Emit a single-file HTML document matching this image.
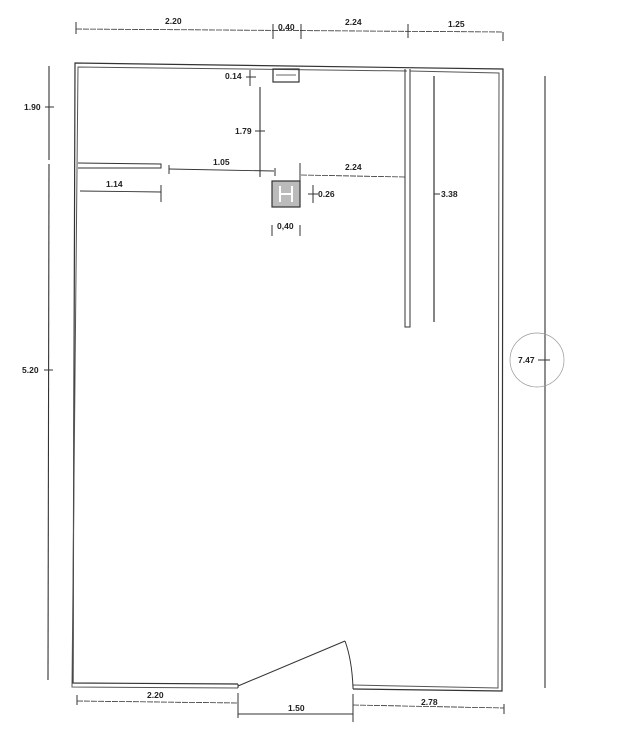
<!DOCTYPE html>
<html><head><meta charset="utf-8"><style>
html,body{margin:0;padding:0;background:#fff;}
svg{display:block}
text{font-family:"Liberation Sans",sans-serif;font-size:8.5px;font-weight:bold;fill:#222}
</style></head><body>
<svg width="627" height="742" viewBox="0 0 627 742" xmlns="http://www.w3.org/2000/svg">
<g fill="none" stroke="#333">
<path d="M238,684 L73,683 L75,63 L503,69 L502,691 L353,689" stroke-width="1.2"/>
<path d="M238,688 L72,687 L78,67 L407,71 M410,71 L499,73 L498,688 L353,685" stroke-width="1" stroke="#555"/>
<line x1="238" y1="684" x2="238" y2="688"/>
<line x1="353" y1="685" x2="353" y2="689"/>
<path d="M405,69 L405,327 L410,327 L410,69" stroke-width="1"/>
<line x1="434" y1="76" x2="434" y2="322" stroke-width="1.2"/>
<path d="M78,163 L161,164 L161,168 L78,168" stroke-width="1"/>
<line x1="238" y1="686" x2="345" y2="641" stroke-width="1"/>
<path d="M345,641 Q352,660 353,688" stroke-width="1"/>
<rect x="273" y="69" width="26" height="13" stroke-width="1.2"/>
<line x1="276" y1="75" x2="296" y2="75" stroke-width="0.8"/>
<rect x="272" y="181" width="28" height="26" fill="#bbb" stroke-width="1.2"/>
<path d="M280,186 V202 M292,186 V202 M280,194 H292" stroke="#fff" stroke-width="2"/>
<line x1="76" y1="29" x2="503" y2="32" stroke-width="0.8" stroke-dasharray="6,1"/>
<path d="M76,22 V34 M273,24 V39 M301,24 V39 M408,24 V38 M503,32 V41" stroke-width="1"/>
<line x1="49" y1="66" x2="49" y2="160" stroke-width="1.1"/>
<line x1="49" y1="164" x2="48" y2="680" stroke-width="1.1"/>
<line x1="45" y1="107" x2="54" y2="107"/>
<line x1="44" y1="370" x2="53" y2="370"/>
<line x1="545" y1="76" x2="545" y2="688" stroke-width="1.1"/>
<line x1="538" y1="360" x2="550" y2="360"/>
<ellipse cx="537" cy="360" rx="27" ry="27" stroke="#999" stroke-width="0.7"/>
<line x1="77" y1="701" x2="238" y2="703" stroke-width="0.8" stroke-dasharray="6,1"/>
<line x1="77" y1="695" x2="77" y2="705"/>
<line x1="238" y1="693" x2="238" y2="718"/>
<line x1="238" y1="714" x2="353" y2="714" stroke-width="0.9"/>
<line x1="353" y1="694" x2="353" y2="722"/>
<line x1="353" y1="705" x2="504" y2="708" stroke-width="0.8" stroke-dasharray="6,1"/>
<line x1="504" y1="704" x2="504" y2="714"/>
<line x1="260" y1="87" x2="260" y2="177" stroke-width="1.1"/>
<line x1="255" y1="131" x2="265" y2="131"/>
<path d="M250,70 V86 M246,77 H256"/>
<line x1="169" y1="169" x2="274" y2="171" stroke-width="0.9"/>
<line x1="169" y1="165" x2="169" y2="174"/>
<path d="M275,168 V176 M300,163 V184"/>
<line x1="301" y1="175" x2="405" y2="177" stroke-width="0.8" stroke-dasharray="6,1"/>
<line x1="80" y1="191" x2="161" y2="192" stroke-width="0.9"/>
<line x1="161" y1="185" x2="161" y2="202"/>
<path d="M313,185 V203 M308,194 H318"/>
<path d="M272,225 V236 M300,225 V236"/>
<line x1="434" y1="194" x2="440" y2="194"/>
</g>
<text x="165" y="24">2.20</text>
<text x="278" y="30">0.40</text>
<text x="345" y="25">2.24</text>
<text x="448" y="27">1.25</text>
<text x="24" y="110">1.90</text>
<text x="22" y="373">5.20</text>
<text x="518" y="363">7.47</text>
<text x="225" y="79">0.14</text>
<text x="235" y="134">1.79</text>
<text x="213" y="165">1.05</text>
<text x="345" y="170">2.24</text>
<text x="106" y="187">1.14</text>
<text x="318" y="197">0.26</text>
<text x="441" y="197">3.38</text>
<text x="277" y="229">0,40</text>
<text x="147" y="698">2.20</text>
<text x="288" y="711">1.50</text>
<text x="421" y="705">2.78</text>
</svg>
</body></html>
